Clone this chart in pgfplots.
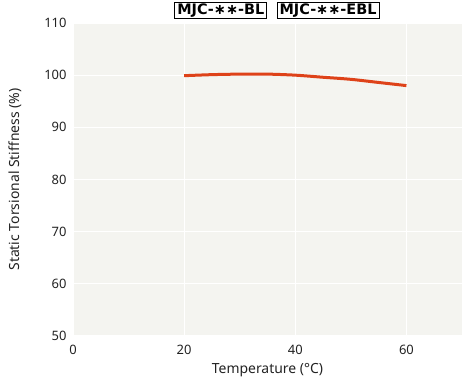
\documentclass[border=0pt]{standalone}
\usepackage{pgfplots}
\pgfplotsset{compat=1.18}
\usepackage{fontspec}
\setmainfont{Noto Sans}
\newfontfamily\legfont{DejaVu Sans Bold}
\definecolor{bgc}{HTML}{F4F4F0}
\definecolor{linec}{HTML}{DE4219}
\definecolor{txt}{HTML}{222222}
\begin{document}
\begin{tikzpicture}
\path[use as bounding box] (-73bp,-45bp) rectangle (390bp,336bp);
\begin{axis}[
  scale only axis,
  width=389bp, height=313bp,
  xmin=0, xmax=70, ymin=50, ymax=110,
  xtick={0,20,40,60}, ytick={50,60,...,110},
  axis line style={draw=none},
  axis background/.style={fill=bgc},
  major tick length=0pt,
  grid=major,
  major grid style={white, line width=1.2bp},
  tick label style={font=\fontsize{13}{15}\selectfont, text=txt},
  /pgf/number format/assume math mode=true,
  yticklabel style={xshift=-3bp},
  xticklabel style={yshift=-6bp},
  xlabel={Temperature (\textdegree C)},
  ylabel={Static Torsional Stiffness (\%)},
  label style={font=\fontsize{14}{16}\selectfont, text=txt},
  xlabel style={yshift=-2bp},
  ylabel style={yshift=16bp},
  clip=false,
]
\addplot[linec, line width=3bp, smooth] coordinates {
  (20,99.9) (25,100.1) (30,100.2) (35,100.2) (40,100.0) (45,99.6) (50,99.2) (55,98.6) (60,98.0)
};
\node[draw=black, line width=0.9bp, fill=white, inner xsep=2.5bp, inner ysep=1.5bp, font=\fontsize{14.5}{16}\selectfont\legfont] at ([yshift=12.5bp]axis cs:26.6,110) {MJC-∗∗-BL};
\node[draw=black, line width=0.9bp, fill=white, inner xsep=2.5bp, inner ysep=1.5bp, font=\fontsize{14.5}{16}\selectfont\legfont] at ([yshift=12.5bp]axis cs:45.9,110) {MJC-∗∗-EBL};
\end{axis}
\end{tikzpicture}
\end{document}
